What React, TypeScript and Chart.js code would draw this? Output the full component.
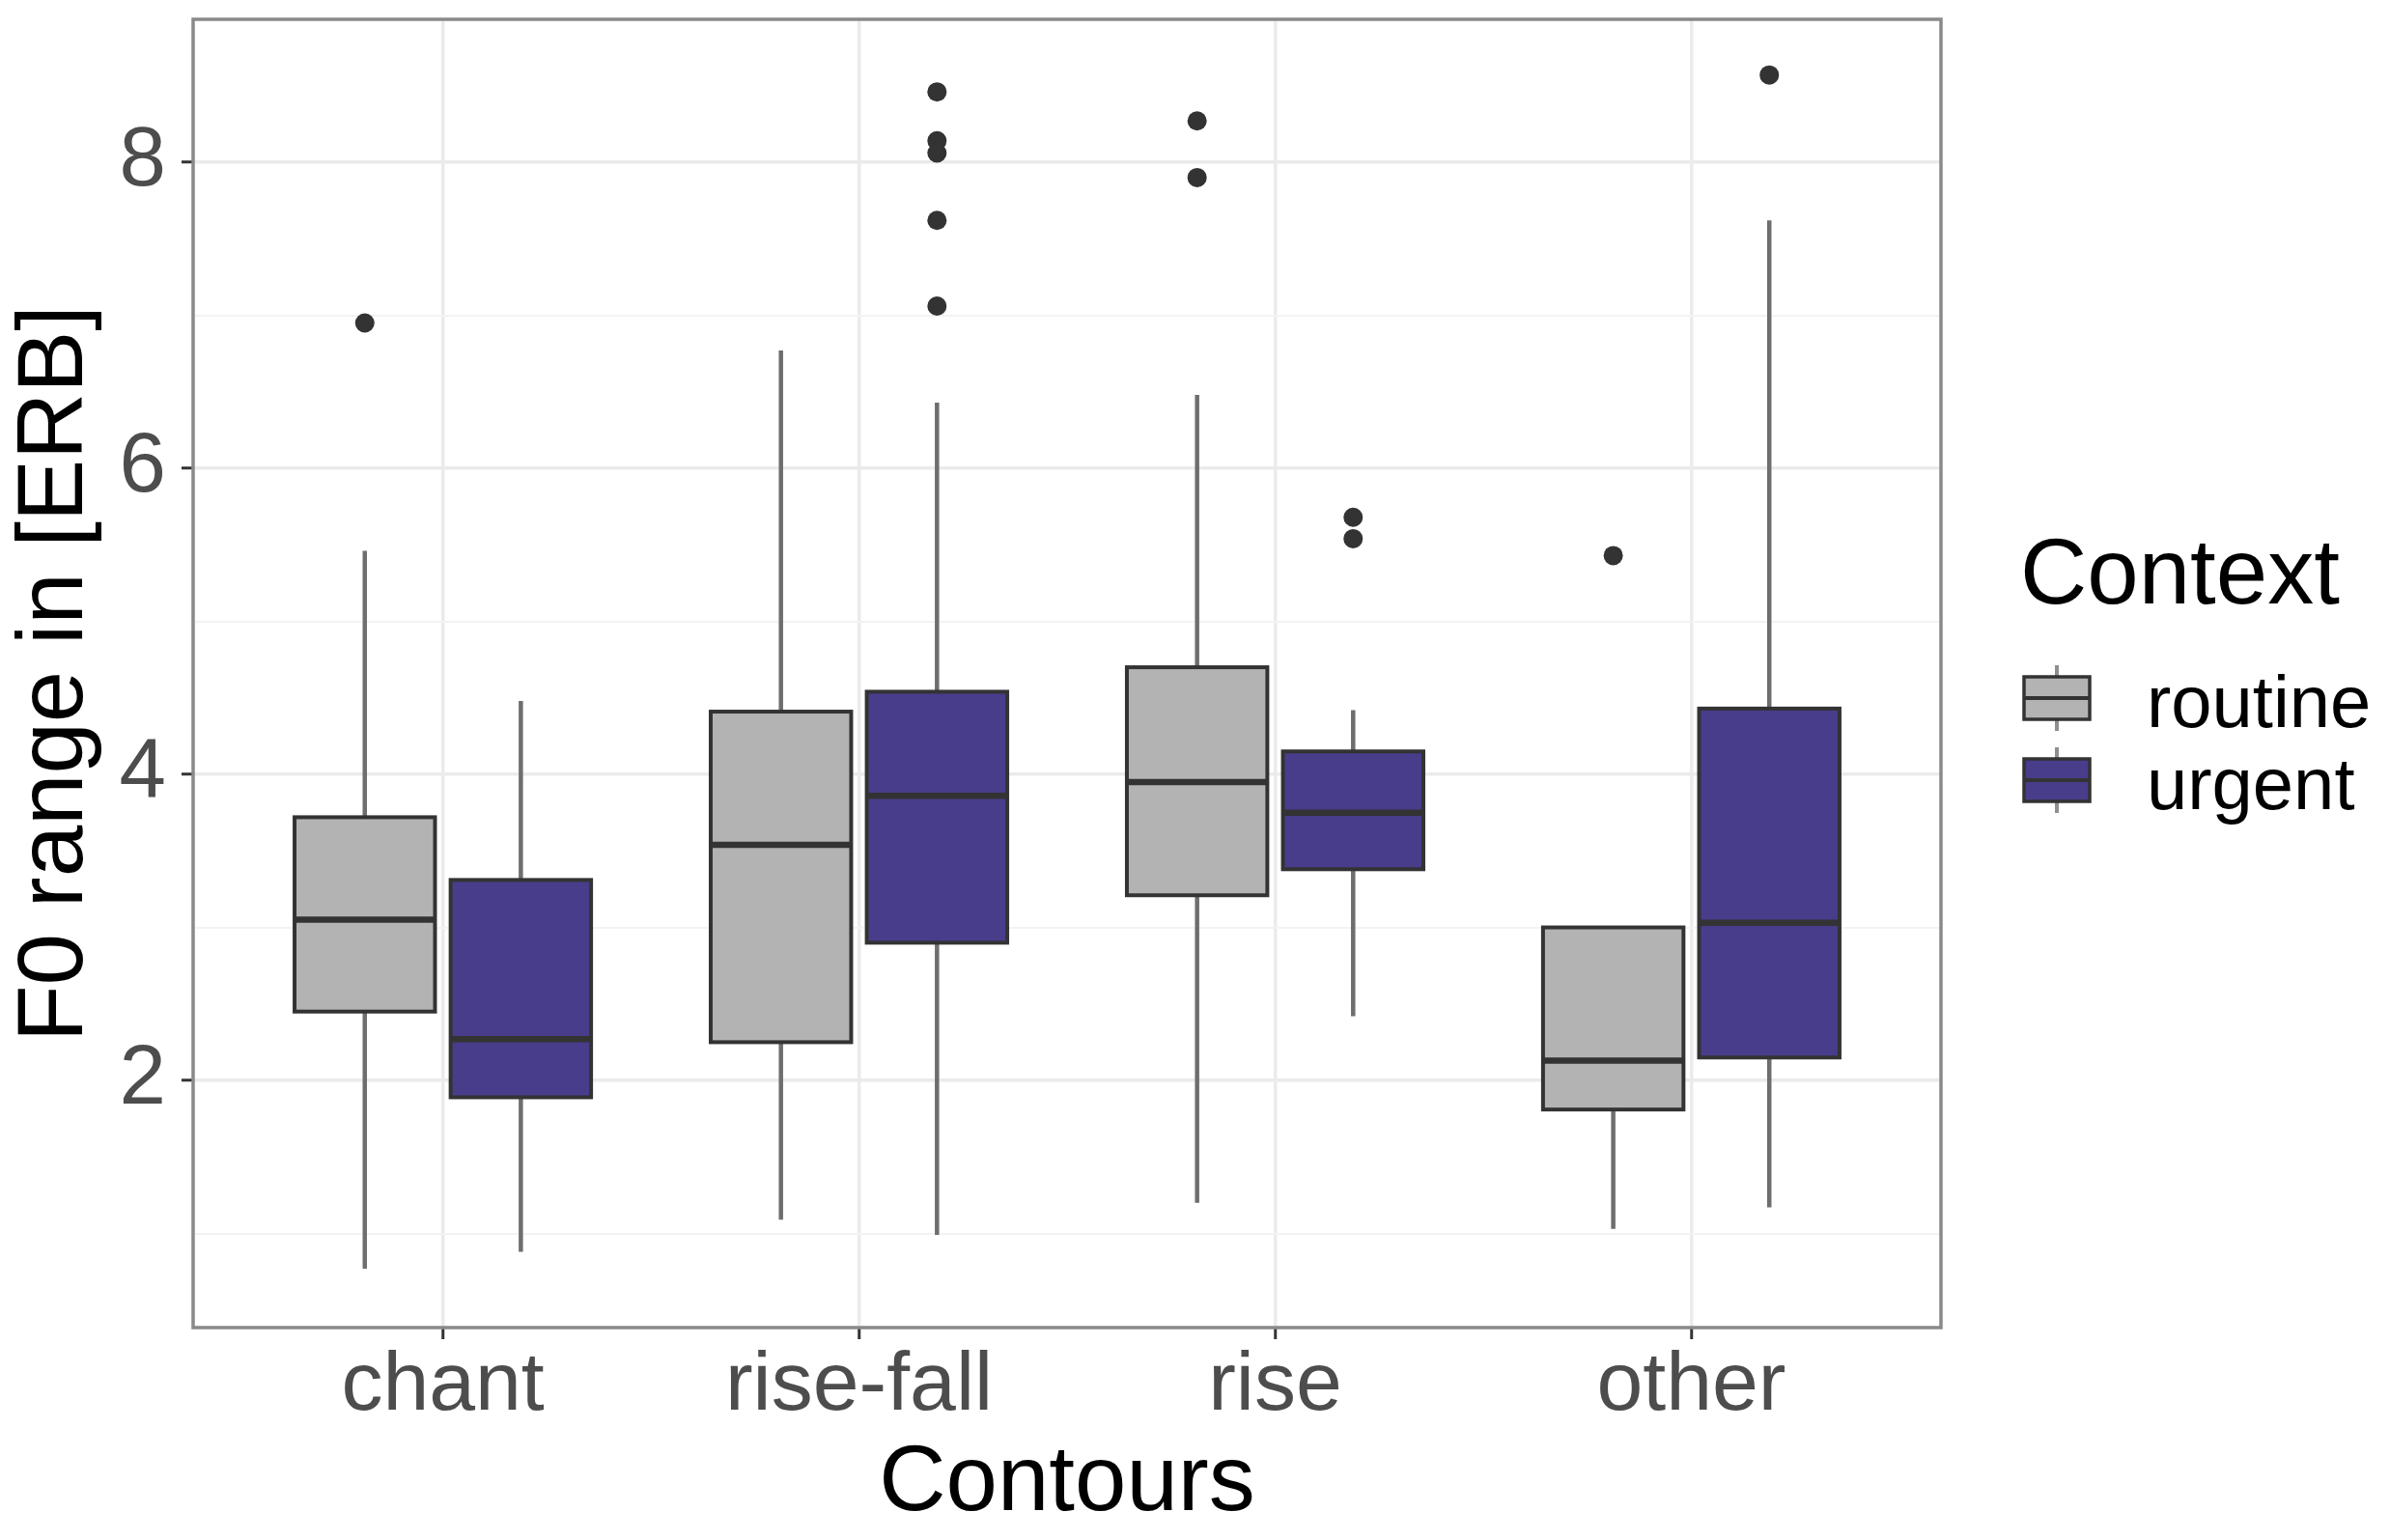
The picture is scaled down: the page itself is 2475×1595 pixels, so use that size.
import React, { useEffect, useRef } from 'react';
import { Chart, registerables } from 'chart.js';

Chart.register(...registerables);

// ---------- data ----------
const categories = ['chant', 'rise-fall', 'rise', 'other'];
const groups = ['routine', 'urgent'];
const yMajorTicks = [2, 4, 6, 8];
const yMinorTicks = [1, 3, 5, 7];

const routineLow = [0.77, 1.09, 1.2, 1.03];
const routineQ1 = [2.45, 2.25, 3.21, 1.81];
const routineMedian = [3.05, 3.54, 3.95, 2.13];
const routineQ3 = [3.72, 4.41, 4.7, 3.0];
const routineHigh = [5.46, 6.77, 6.48, 3.0];
const routineOutliers = [[6.95], [], [8.27, 7.9], [5.43]];

const urgentLow = [0.88, 0.99, 2.42, 1.17];
const urgentQ1 = [1.89, 2.9, 3.38, 2.15];
const urgentMedian = [2.27, 3.86, 3.75, 3.03];
const urgentQ3 = [3.31, 4.54, 4.15, 4.43];
const urgentHigh = [4.48, 6.43, 4.42, 7.62];
const urgentOutliers = [[], [8.46, 8.14, 8.06, 7.62, 7.06], [5.68, 5.54], [8.57]];

// ---------- styling ----------
const FONT = '"Liberation Sans", Arial, Helvetica, sans-serif';
const groupFill = ['#b3b3b3', '#483d8b'];
const OUTLINE = '#333333';
const WHISKER = '#6e6e6e';
const DODGE = 0.1875;
const HALF = 0.16875;
const Y_MIN = 0.385;
const Y_MAX = 8.934;

const stats = [
  { low: routineLow, q1: routineQ1, med: routineMedian, q3: routineQ3, high: routineHigh, out: routineOutliers },
  { low: urgentLow, q1: urgentQ1, med: urgentMedian, q3: urgentQ3, high: urgentHigh, out: urgentOutliers },
];

const boxPlugin = {
  id: 'ggBoxes',
  beforeDatasetsDraw(chart: any) {
    const { ctx, scales } = chart;
    const xs = scales.x;
    const ys = scales.y;
    ctx.save();
    categories.forEach((_, i) => {
      stats.forEach((s, g) => {
        const off = g === 0 ? -DODGE : DODGE;
        const c = i + 1 + off;
        const cx = xs.getPixelForValue(c);
        const l = xs.getPixelForValue(c - HALF);
        const r = xs.getPixelForValue(c + HALF);
        const pLow = ys.getPixelForValue(s.low[i]);
        const pQ1 = ys.getPixelForValue(s.q1[i]);
        const pMed = ys.getPixelForValue(s.med[i]);
        const pQ3 = ys.getPixelForValue(s.q3[i]);
        const pHigh = ys.getPixelForValue(s.high[i]);
        // whiskers
        ctx.strokeStyle = WHISKER;
        ctx.lineWidth = 4.5;
        ctx.lineCap = 'butt';
        ctx.beginPath();
        ctx.moveTo(cx, pHigh);
        ctx.lineTo(cx, pQ3);
        ctx.moveTo(cx, pQ1);
        ctx.lineTo(cx, pLow);
        ctx.stroke();
        // box
        ctx.fillStyle = groupFill[g];
        ctx.fillRect(l, pQ3, r - l, pQ1 - pQ3);
        ctx.strokeStyle = OUTLINE;
        ctx.lineWidth = 4;
        ctx.strokeRect(l, pQ3, r - l, pQ1 - pQ3);
        // median
        ctx.lineWidth = 6.5;
        ctx.beginPath();
        ctx.moveTo(l, pMed);
        ctx.lineTo(r, pMed);
        ctx.stroke();
      });
    });
    ctx.restore();
  },
  afterDraw(chart: any) {
    const { ctx, chartArea } = chart;
    ctx.save();
    // panel border
    ctx.strokeStyle = '#8a8a8a';
    ctx.lineWidth = 3.5;
    ctx.strokeRect(chartArea.left, chartArea.top, chartArea.right - chartArea.left, chartArea.bottom - chartArea.top);

    // legend
    const lx = chartArea.right + 82;
    ctx.fillStyle = '#000000';
    ctx.font = `96px ${FONT}`;
    ctx.textAlign = 'left';
    ctx.textBaseline = 'alphabetic';
    ctx.fillText('Context', lx, 625);

    const keyL = lx + 4;
    const keyW = 68;
    const keyH = 44;
    const keyTops = [701, 786];
    groups.forEach((name, g) => {
      const top = keyTops[g];
      const kcx = keyL + keyW / 2;
      ctx.strokeStyle = '#8f8f8f';
      ctx.lineWidth = 4;
      ctx.beginPath();
      ctx.moveTo(kcx, top - 12);
      ctx.lineTo(kcx, top);
      ctx.moveTo(kcx, top + keyH);
      ctx.lineTo(kcx, top + keyH + 12);
      ctx.stroke();
      ctx.fillStyle = groupFill[g];
      ctx.fillRect(keyL, top, keyW, keyH);
      ctx.strokeStyle = OUTLINE;
      ctx.lineWidth = 3.5;
      ctx.strokeRect(keyL, top, keyW, keyH);
      ctx.lineWidth = 4;
      ctx.beginPath();
      ctx.moveTo(keyL, top + keyH / 2);
      ctx.lineTo(keyL + keyW, top + keyH / 2);
      ctx.stroke();
      ctx.fillStyle = '#000000';
      ctx.font = `76px ${FONT}`;
      ctx.fillText(name, keyL + 127, top + keyH / 2 + 30);
    });
    ctx.restore();
  },
};

export default function App() {
  const canvasRef = useRef<HTMLCanvasElement | null>(null);

  useEffect(() => {
    const canvas = canvasRef.current;
    if (!canvas) return;
    Chart.defaults.font.family = FONT;

    const outlierData = stats.map((s, g) => {
      const off = g === 0 ? -DODGE : DODGE;
      const pts: { x: number; y: number }[] = [];
      s.out.forEach((vals, i) => vals.forEach((v) => pts.push({ x: i + 1 + off, y: v })));
      return pts;
    });

    const chart = new Chart(canvas, {
      type: 'scatter',
      data: {
        datasets: groups.map((name, g) => ({
          label: name + ' outliers',
          data: outlierData[g],
          pointRadius: 10,
          pointHoverRadius: 10,
          pointBackgroundColor: OUTLINE,
          pointBorderWidth: 0,
          showLine: false,
        })),
      },
      options: {
        animation: false,
        responsive: false,
        devicePixelRatio: 1,
        layout: { padding: { left: 0, top: 20, right: 465, bottom: 0 } },
        plugins: {
          legend: { display: false },
          tooltip: { enabled: false },
          title: { display: false },
        },
        scales: {
          x: {
            type: 'linear',
            min: 0.4,
            max: 4.6,
            afterBuildTicks: (scale: any) => {
              scale.ticks = categories.map((_, i) => ({ value: i + 1 }));
            },
            afterFit: (scale: any) => {
              scale.height = 220;
              scale.paddingLeft = 0;
              scale.paddingRight = 0;
            },
            ticks: {
              callback: (v: any) => categories[Math.round(Number(v)) - 1] ?? '',
              color: '#4d4d4d',
              font: { size: 86, lineHeight: 1 },
              padding: 6,
              maxRotation: 0,
              autoSkip: false,
            },
            grid: {
              color: '#ebebeb',
              lineWidth: 3.5,
              tickColor: '#333333',
              tickWidth: 3,
              tickLength: 12,
            },
            border: { display: false },
            title: {
              display: true,
              text: 'Contours',
              color: '#000000',
              font: { size: 96, lineHeight: 1 },
              padding: { top: 0, bottom: 9 },
            },
          },
          y: {
            type: 'linear',
            min: Y_MIN,
            max: Y_MAX,
            afterBuildTicks: (scale: any) => {
              scale.ticks = [...yMinorTicks, ...yMajorTicks]
                .sort((a, b) => a - b)
                .map((v) => ({ value: v }));
            },
            afterFit: (scale: any) => {
              scale.width = 200;
              scale.paddingTop = 0;
              scale.paddingBottom = 0;
            },
            ticks: {
              callback: (v: any) => (yMajorTicks.includes(Number(v)) ? String(v) : ''),
              color: '#4d4d4d',
              font: { size: 87, lineHeight: 1 },
              padding: 16,
              autoSkip: false,
            },
            grid: {
              color: (c: any) => (yMajorTicks.includes(c.tick?.value) ? '#ebebeb' : '#f3f3f3'),
              lineWidth: (c: any) => (yMajorTicks.includes(c.tick?.value) ? 3.5 : 2),
              tickColor: (c: any) => (yMajorTicks.includes(c.tick?.value) ? '#333333' : 'rgba(0,0,0,0)'),
              tickWidth: 3,
              tickLength: 12,
            },
            border: { display: false },
            title: {
              display: true,
              text: 'F0 range in [ERB]',
              color: '#000000',
              font: { size: 96, lineHeight: 1 },
              padding: { top: 11, bottom: 0 },
            },
          },
        },
      },
      plugins: [boxPlugin],
    } as any);

    return () => chart.destroy();
  }, []);

  return (
    <div style={{ position: 'fixed', left: 0, top: 0, width: '2475px', height: '1595px', background: '#ffffff' }}>
      <canvas ref={canvasRef} width={2475} height={1595} style={{ width: '2475px', height: '1595px', display: 'block' }} />
    </div>
  );
}
